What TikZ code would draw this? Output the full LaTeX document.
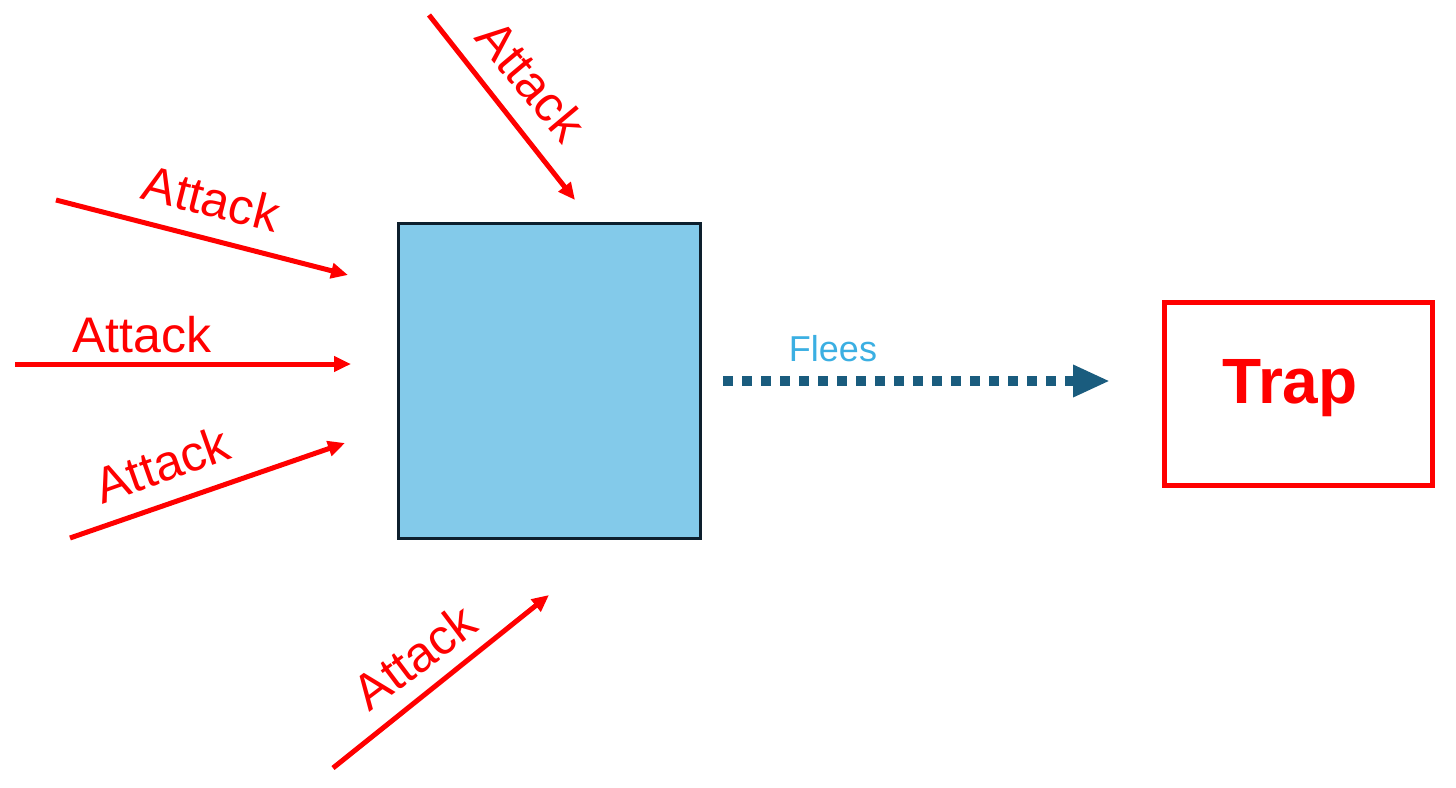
\documentclass[tikz,border=0pt]{standalone}
\usepackage{fontspec}
\setmainfont{Liberation Sans}
\usetikzlibrary{arrows.meta}
\definecolor{atkred}{HTML}{FF0000}
\definecolor{boxfill}{HTML}{83CAEA}
\definecolor{boxedge}{HTML}{0D1F2D}
\definecolor{fleeblue}{HTML}{3BAFE2}
\definecolor{fleedark}{HTML}{1A5C7E}
\tikzset{
  attack/.style={draw=atkred, line width=5pt, -{Triangle[length=17pt,width=15pt]}},
  atklabel/.style={text=atkred, font=\fontsize{50}{50}\selectfont, anchor=base, inner sep=0pt},
  target/.style={draw=boxedge, fill=boxfill, line width=3pt, minimum width=302pt, minimum height=315pt, inner sep=0pt},
  trapbox/.style={draw=atkred, line width=5pt, minimum width=268pt, minimum height=183pt, inner sep=0pt},
  flee/.style={draw=fleedark, line width=10pt, dash pattern=on 10pt off 9pt, -{Triangle[length=37pt,width=30pt]}},
}
\begin{document}
\begin{tikzpicture}[x=1pt,y=-1pt]
\useasboundingbox (0,0) rectangle (1456,787);
% target box and trap
\node[target] (box) at (549.5,381) {};
\node[trapbox] (trap) at (1298.5,394) {};
\node[text=atkred, font=\bfseries\fontsize{64}{64}\selectfont, anchor=base, inner sep=0pt] (traptxt) at (1290,403) {Trap};
% attack arrows
\coordinate (s1) at (429,15);   \coordinate (e1) at (575,200);
\coordinate (s2) at (56,200);   \coordinate (e2) at (348,275);
\coordinate (s3) at (15,364);   \coordinate (e3) at (351,364);
\coordinate (s4) at (70,538);   \coordinate (e4) at (345,443);
\coordinate (s5) at (333,768);  \coordinate (e5) at (549,595);
\draw[attack] (s1) -- (e1);
\draw[attack] (s2) -- (e2);
\draw[attack] (s3) -- (e3);
\draw[attack] (s4) -- (e4);
\draw[attack] (s5) -- (e5);
\node[atklabel, rotate=-50] (l1) at (518,92) {Attack};
\node[atklabel, rotate=-14.3] (l2) at (207,216) {Attack};
\node[atklabel] (l3) at (142,352) {Attack};
\node[atklabel, rotate=19.5] (l4) at (168,481) {Attack};
\node[atklabel, rotate=37] (l5) at (425,671) {Attack};
% flees
\coordinate (fs) at (723,381);
\coordinate (fe) at (1110,381);
\draw[flee] (fs) -- (fe);
\node[text=fleeblue, font=\fontsize{36}{36}\selectfont, anchor=base, inner sep=0pt] (fl) at (833,361) {Flees};
\end{tikzpicture}
\end{document}
